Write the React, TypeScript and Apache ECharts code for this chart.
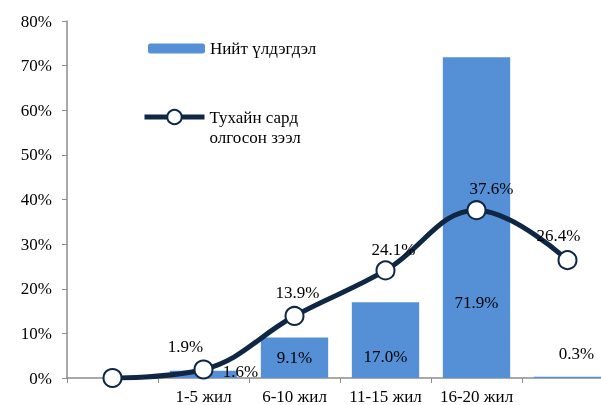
import React, { useEffect, useRef } from "react";
import * as echarts from "echarts";

const categories = ["", "1-5 жил", "6-10 жил", "11-15 жил", "16-20 жил", ""];
const balanceShare: (number | null)[] = [null, 1.6, 9.1, 17.0, 71.9, 0.3];
const loanShare = [0, 1.9, 13.9, 24.1, 37.6, 26.4];
const yMin = 0;
const yMax = 80;
const yStep = 10;

const barName = "Нийт үлдэгдэл";
const lineName = "Тухайн сард\nолгосон зээл";

const FONT = "Liberation Serif";
const BAR_COLOR = "#5590d6";
const LINE_COLOR = "#0f2744";
const AXIS_COLOR = "#8c8c8c";

// label placement styles (not data)
const barLabelStyles = [
  { show: false },
  { position: "insideBottom", distance: -2, offset: [37, 0] },
  { position: "insideBottom", distance: 12 },
  { position: "insideBottom", distance: 13 },
  { position: "insideBottom", distance: 67 },
  { position: "insideBottom", distance: 16, offset: [9, 0] },
];
const lineLabelOffsets = [
  [0, 0],
  [-18, 0],
  [3, 0],
  [8, 3],
  [15, 2],
  [-9, -1],
];

export default function App() {
  const ref = useRef<HTMLDivElement>(null);

  useEffect(() => {
    if (!ref.current) return;
    const chart = echarts.init(ref.current, undefined, { renderer: "svg" });
    const textBase = { fontFamily: FONT, fontSize: 17, color: "#000" };

    chart.setOption({
      animation: false,
      textStyle: { fontFamily: FONT },
      grid: { left: 67, right: 0, top: 21, bottom: 27, containLabel: false },
      legend: [
        {
          data: [barName],
          left: 148,
          top: 40,
          padding: 0,
          itemWidth: 57,
          itemHeight: 10,
          textStyle: { ...textBase },
        },
        {
          data: [lineName],
          left: 142,
          top: 87,
          padding: 0,
          itemWidth: 60,
          itemHeight: 18,
          formatter: (name: string) => "\n" + name,
          lineStyle: { width: 5, color: LINE_COLOR },
          itemStyle: { color: "#fff", borderColor: LINE_COLOR, borderWidth: 2 },
          textStyle: { ...textBase, lineHeight: 20 },
        },
      ],
      xAxis: {
        type: "category",
        data: categories,
        boundaryGap: true,
        axisLine: { lineStyle: { color: AXIS_COLOR, width: 1.5 } },
        axisTick: { show: true, length: 5, lineStyle: { color: AXIS_COLOR } },
        axisLabel: { ...textBase, margin: 10, interval: 0 },
        splitLine: { show: false },
      },
      yAxis: {
        type: "value",
        min: yMin,
        max: yMax,
        interval: yStep,
        axisLine: { show: true, lineStyle: { color: AXIS_COLOR, width: 1.5 } },
        axisTick: { show: true, length: 5, lineStyle: { color: AXIS_COLOR } },
        axisLabel: { ...textBase, margin: 15, formatter: "{value}%" },
        splitLine: { show: false },
      },
      series: [
        {
          name: barName,
          type: "bar",
          barCategoryGap: "26%",
          itemStyle: { color: BAR_COLOR },
          data: balanceShare.map((v, i) => ({
            value: v,
            label: {
              show: v !== null,
              ...textBase,
              formatter: (p: any) => `${Number(p.value).toFixed(1)}%`,
              ...barLabelStyles[i],
            },
          })),
        },
        {
          name: lineName,
          type: "line",
          smooth: 0.4,
          symbol: "circle",
          symbolSize: 18,
          lineStyle: { color: LINE_COLOR, width: 5 },
          itemStyle: { color: "#fff", borderColor: LINE_COLOR, borderWidth: 2 },
          z: 5,
          data: loanShare.map((v, i) => ({
            value: v,
            label: {
              show: i > 0,
              position: "top",
              distance: 5,
              ...textBase,
              offset: lineLabelOffsets[i],
              formatter: (p: any) => `${Number(p.value).toFixed(1)}%`,
            },
          })),
        },
      ],
    });

    return () => chart.dispose();
  }, []);

  return (
    <div
      ref={ref}
      style={{ position: "fixed", left: 0, top: 0, width: 613, height: 405 }}
    />
  );
}
